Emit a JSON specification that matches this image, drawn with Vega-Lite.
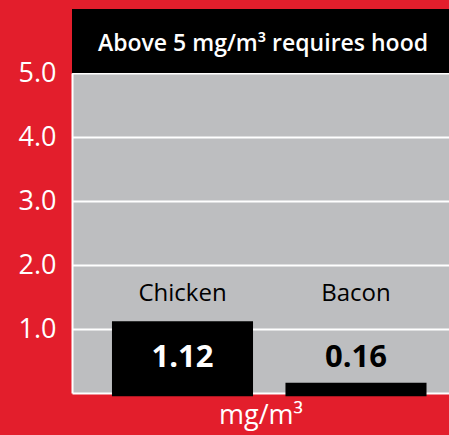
{
  "$schema": "https://vega.github.io/schema/vega-lite/v6.json",
  "width": 377,
  "height": 320,
  "autosize": "none",
  "padding": {"left": 72, "top": 73, "right": 0, "bottom": 42},
  "background": "#e31e2c",
  "config": {
    "view": {"fill": "#bdbec0", "stroke": null},
    "font": "Open Sans"
  },
  "data": {"values": [
    {"food": "Chicken", "value": 1.12},
    {"food": "Bacon", "value": 0.16}
  ]},
  "encoding": {
    "x": {
      "field": "food", "type": "nominal", "sort": null,
      "scale": {"paddingInner": 0.187, "paddingOuter": 0.18, "align": 0.64},
      "axis": {
        "labels": false, "ticks": false, "domainColor": "white", "domainWidth": 2,
        "title": "mg/m³", "titleColor": "white", "titleFontSize": 27,
        "titleFontWeight": "normal", "titlePadding": 9, "titleFont": "Open Sans"
      }
    }
  },
  "layer": [
    {
      "mark": {"type": "bar", "color": "black"},
      "encoding": {
        "y": {
          "field": "value", "type": "quantitative",
          "scale": {"domain": [0, 5], "nice": false},
          "axis": {
            "values": [1, 2, 3, 4, 5], "format": ".1f", "title": null,
            "labelColor": "white", "labelFontSize": 27, "labelFont": "Open Sans",
            "labelPadding": 16, "ticks": false,
            "domainColor": "white", "domainWidth": 2,
            "gridColor": "white", "gridWidth": 2, "gridOpacity": 1
          }
        },
        "y2": {"datum": -0.05}
      }
    },
    {
      "mark": {"type": "text", "fontSize": 24, "color": "black", "baseline": "middle"},
      "encoding": {
        "y": {"datum": 1.55, "type": "quantitative"},
        "text": {"field": "food"}
      }
    },
    {
      "mark": {"type": "text", "fontSize": 31, "fontWeight": "bold", "baseline": "middle"},
      "encoding": {
        "y": {"datum": 0.55, "type": "quantitative"},
        "text": {"field": "value", "type": "quantitative", "format": ".2f"},
        "color": {
          "condition": {"test": "datum.value > 0.5", "value": "white"},
          "value": "black"
        }
      }
    },
    {
      "data": {"values": [{"label": "Above 5 mg/m³ requires hood"}]},
      "layer": [
        {
          "mark": {"type": "rect", "color": "black"},
          "encoding": {
            "x": {"value": 0},
            "x2": {"value": 377},
            "y": {"datum": 5, "type": "quantitative"},
            "y2": {"datum": 6}
          }
        },
        {
          "mark": {"type": "text", "fontSize": 23, "fontWeight": 600, "color": "white", "baseline": "middle", "dy": 3},
          "encoding": {
            "x": {"value": 191},
            "y": {"datum": 5.5, "type": "quantitative"},
            "text": {"field": "label"}
          }
        }
      ]
    }
  ]
}
